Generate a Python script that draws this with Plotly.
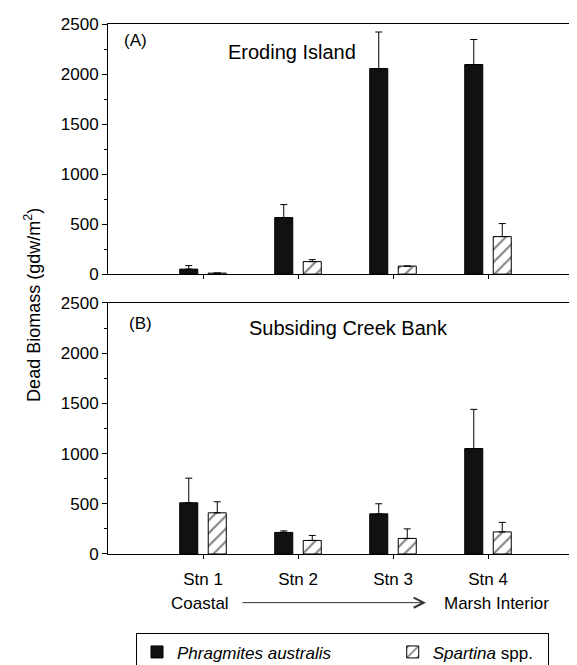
import plotly.graph_objects as go

stations = ["Stn 1", "Stn 2", "Stn 3", "Stn 4"]

# Panel A: Eroding Island
phrag_a = [50, 565, 2055, 2095]
phrag_a_err = [35, 130, 365, 250]
spart_a = [10, 125, 80, 375]
spart_a_err = [0, 20, 0, 130]

# Panel B: Subsiding Creek Bank
phrag_b = [510, 215, 400, 1050]
phrag_b_err = [245, 15, 100, 390]
spart_b = [410, 135, 155, 220]
spart_b_err = [110, 50, 95, 95]

y_ticks = [0, 500, 1000, 1500, 2000, 2500]

FONT = "Liberation Sans, Arial, sans-serif"
W, H = 577, 665
ML, MR, MT, MB = 100, 2, 16, 115
PW = W - ML - MR
PH = H - MT - MB


def px_x(px):
    return (px - ML) / PW


def px_y(py):
    return (H - MB - py) / PH


fig = go.Figure()


def add_pair(xa, ya, ph, ph_err, sp, sp_err, show):
    fig.add_trace(go.Bar(
        x=stations, y=ph, xaxis=xa, yaxis=ya,
        name="<i>Phragmites australis</i>\u00a0\u00a0\u00a0\u00a0\u00a0\u00a0\u00a0\u00a0\u00a0\u00a0\u00a0\u00a0",
        offset=-0.245, width=0.19,
        marker=dict(color="#111111", line=dict(color="black", width=1)),
        error_y=dict(type="data", array=ph_err, arrayminus=[0] * len(ph_err),
                     symmetric=False, color="black", thickness=1, width=3.5),
        showlegend=show, legendrank=1,
    ))
    fig.add_trace(go.Bar(
        x=stations, y=sp, xaxis=xa, yaxis=ya,
        name="<i>Spartina</i> spp.\u00a0\u00a0",
        offset=0.055, width=0.19,
        marker=dict(color="white", line=dict(color="black", width=1),
                    pattern=dict(shape="/", fgcolor="black", bgcolor="white",
                                 size=9, solidity=0.22)),
        error_y=dict(type="data", array=sp_err, arrayminus=[0] * len(sp_err),
                     symmetric=False, color="black", thickness=1, width=3.5),
        showlegend=show, legendrank=2,
    ))


add_pair("x", "y", phrag_a, phrag_a_err, spart_a, spart_a_err, False)
add_pair("x2", "y2", phrag_b, phrag_b_err, spart_b, spart_b_err, True)

xcommon = dict(type="category", categoryorder="array", categoryarray=stations,
               range=[-1, 4], showline=True, linecolor="black", linewidth=1,
               mirror=True, ticks="outside", ticklen=4, tickcolor="black",
               showgrid=False, zeroline=False,
               tickfont=dict(family=FONT, size=17, color="black"))
ycommon = dict(range=[0, 2500], tickvals=y_ticks, showline=True, linecolor="black",
               linewidth=1, mirror=True, ticks="outside", ticklen=5,
               tickcolor="black", showgrid=False, zeroline=False,
               minor=dict(dtick=250, ticks="outside", ticklen=3, tickcolor="black"),
               tickfont=dict(family=FONT, size=17, color="black"))

fig.update_layout(
    width=W, height=H,
    margin=dict(l=ML, r=MR, t=MT, b=MB),
    paper_bgcolor="white", plot_bgcolor="white",
    barmode="overlay",
    font=dict(family=FONT, size=17, color="black"),
    xaxis=dict(xcommon, domain=[0, 1], anchor="y", showticklabels=False),
    yaxis=dict(ycommon, domain=[px_y(268), 1], anchor="x"),
    xaxis2=dict(xcommon, domain=[0, 1], anchor="y2", ticklabelstandoff=6),
    yaxis2=dict(ycommon, domain=[0, px_y(297)], anchor="x2"),
    legend=dict(orientation="h", x=px_x(128), y=px_y(630), xanchor="left",
                yanchor="top", bordercolor="black", borderwidth=1,
                bgcolor="white", font=dict(family=FONT, size=17, color="black"),
                traceorder="normal"),
    showlegend=True,
)

ann = [
    dict(text="(A)", x=px_x(127), y=px_y(33), size=17),
    dict(text="Eroding Island", x=px_x(284), y=px_y(44), size=20),
    dict(text="(B)", x=px_x(132), y=px_y(318), size=17),
    dict(text="Subsiding Creek Bank", x=px_x(340), y=px_y(322), size=20),
    dict(text="Coastal", x=px_x(192), y=px_y(600), size=17),
    dict(text="Marsh Interior", x=px_x(488), y=px_y(600), size=17),
]
for a in ann:
    fig.add_annotation(text=a["text"], x=a["x"], y=a["y"], xref="paper", yref="paper",
                       showarrow=False, xanchor="center", yanchor="middle",
                       font=dict(family=FONT, size=a["size"], color="black"))

fig.add_annotation(text="Dead Biomass (gdw/m<sup>2</sup>)", x=px_x(25), y=px_y(299),
                   xref="paper", yref="paper", showarrow=False, textangle=-90,
                   xanchor="center", yanchor="middle",
                   font=dict(family=FONT, size=18, color="black"))

# Arrow from Coastal to Marsh Interior
fig.add_annotation(text="", x=px_x(418), y=px_y(599), xref="paper", yref="paper",
                   ax=233 - 418, ay=0, axref="pixel", ayref="pixel",
                   showarrow=True, arrowhead=5, arrowsize=2, arrowwidth=1,
                   arrowcolor="#333333")

fig.write_html("out.html")
